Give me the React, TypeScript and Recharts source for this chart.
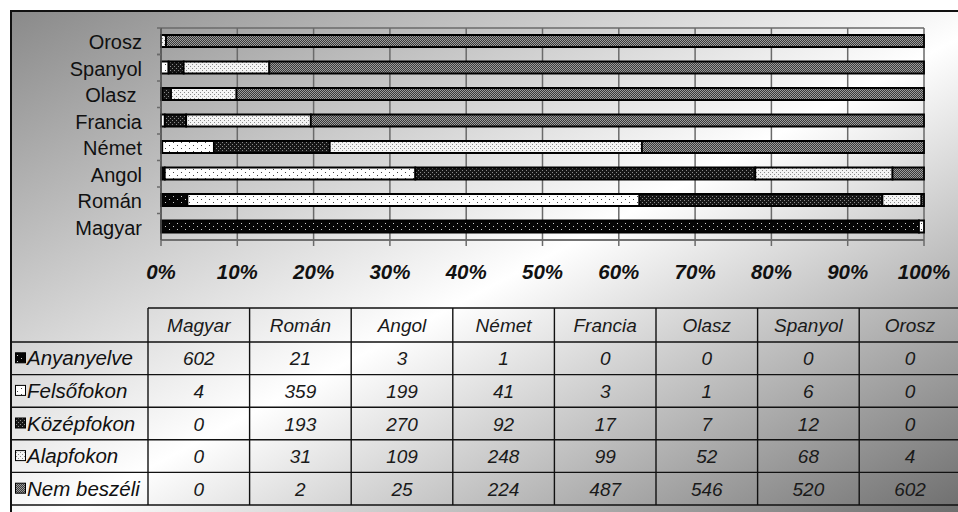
import React from 'react';
import { BarChart, Bar, XAxis, YAxis, CartesianGrid } from 'recharts';

// ---------- data ----------
const languages = ['Magyar', 'Román', 'Angol', 'Német', 'Francia', 'Olasz', 'Spanyol', 'Orosz'];
const axisLabels = ['Magyar', 'Román', 'Angol', 'Német', 'Francia', 'Olasz ', 'Spanyol', 'Orosz'];
const seriesNames = ['Anyanyelve', 'Felsőfokon', 'Középfokon', 'Alapfokon', 'Nem beszéli'];
const anyanyelve = [602, 21, 3, 1, 0, 0, 0, 0];
const felsofokon = [4, 359, 199, 41, 3, 1, 6, 0];
const kozepfokon = [0, 193, 270, 92, 17, 7, 12, 0];
const alapfokon = [0, 31, 109, 248, 99, 52, 68, 4];
const nemBeszeli = [0, 2, 25, 224, 487, 546, 520, 602];
const xTicks = [0, 0.1, 0.2, 0.3, 0.4, 0.5, 0.6, 0.7, 0.8, 0.9, 1];

const seriesValues = [anyanyelve, felsofokon, kozepfokon, alapfokon, nemBeszeli];
const seriesKeys = ['s0', 's1', 's2', 's3', 's4'];
const patternKeys = ['any', 'fel', 'koz', 'ala', 'nem'];

const data = languages.map((lang, i) => {
  const row: any = { name: lang, label: axisLabels[i] };
  seriesKeys.forEach((k, j) => {
    row[k] = seriesValues[j][i];
  });
  return row;
});

// ---------- layout ----------
const FONT = '"Liberation Sans", Arial, Helvetica, sans-serif';
const CHART_W = 958;
const CHART_H = 300;
const MARGIN = { top: 28, right: 34, left: 0, bottom: 30 };
const Y_AXIS_W = 161;
const X_AXIS_H = 30;
const PLOT_H = CHART_H - MARGIN.top - MARGIN.bottom - X_AXIS_H;
const BAND = PLOT_H / languages.length;
const GRID = '#6a6a6a';

function Patterns({ prefix }: { prefix: string }) {
  return (
    <defs>
      <pattern id={`${prefix}-any`} width="8" height="6" patternUnits="userSpaceOnUse">
        <rect width="8" height="6" fill="#050505" />
        <rect x="1" y="1" width="1" height="1" fill="#d0d0d0" />
        <rect x="5" y="4" width="1" height="1" fill="#d0d0d0" />
      </pattern>
      <pattern id={`${prefix}-fel`} width="8" height="6" patternUnits="userSpaceOnUse">
        <rect width="8" height="6" fill="#ffffff" />
        <rect x="1" y="1" width="1" height="1" fill="#444" />
        <rect x="5" y="4" width="1" height="1" fill="#444" />
      </pattern>
      <pattern id={`${prefix}-koz`} width="4" height="4" patternUnits="userSpaceOnUse">
        <rect width="4" height="4" fill="#161616" />
        <rect x="0" y="0" width="1" height="1" fill="#8a8a8a" />
        <rect x="2" y="2" width="1" height="1" fill="#8a8a8a" />
      </pattern>
      <pattern id={`${prefix}-ala`} width="4" height="4" patternUnits="userSpaceOnUse">
        <rect width="4" height="4" fill="#f4f4f4" />
        <rect x="0" y="0" width="1" height="1" fill="#8a8a8a" />
        <rect x="2" y="2" width="1" height="1" fill="#8a8a8a" />
      </pattern>
      <pattern id={`${prefix}-nem`} width="2" height="2" patternUnits="userSpaceOnUse">
        <rect width="2" height="2" fill="#3a3a3a" />
        <rect x="0" y="0" width="1" height="1" fill="#9c9c9c" />
        <rect x="1" y="1" width="1" height="1" fill="#9c9c9c" />
      </pattern>
    </defs>
  );
}

const YTick = (props: any) => {
  const { x, y, payload, index } = props;
  const last = index === languages.length - 1;
  const label = axisLabels[languages.indexOf(payload.value)] ?? payload.value;
  return (
    <g>
      <text
        x={x}
        y={y + 8}
        textAnchor="end"
        fontFamily={FONT}
        fontSize={20}
        fill="#111"
        style={{ whiteSpace: 'pre' }}
      >
        {label}
      </text>
      <line x1={x + 15} x2={x + 19} y1={y - BAND / 2} y2={y - BAND / 2} stroke={GRID} strokeWidth={1.5} />
      {last && (
        <line x1={x + 15} x2={x + 19} y1={y + BAND / 2} y2={y + BAND / 2} stroke={GRID} strokeWidth={1.5} />
      )}
    </g>
  );
};

const XTick = (props: any) => {
  const { x, y, payload } = props;
  return (
    <text
      x={x}
      y={y + 31}
      textAnchor="middle"
      fontFamily={FONT}
      fontSize={20.5}
      fontWeight="bold"
      fontStyle="italic"
      fill="#111"
    >
      {`${Math.round(payload.value * 100)}%`}
    </text>
  );
};

// ---------- table ----------
const T_LEFT = 10;
const T_LABEL_R = 148;
const T_COL_W = 101.6;
const T_TOP = 308;
const T_HEAD_H = 34;
const T_ROW_H = 32.6;

function DataTable() {
  const right = T_LABEL_R + T_COL_W * languages.length;
  const bottom = T_TOP + T_HEAD_H + T_ROW_H * seriesNames.length;
  const lines: any[] = [];
  lines.push(<line key="top" x1={T_LABEL_R} x2={right} y1={T_TOP} y2={T_TOP} stroke="#111" strokeWidth={1.4} />);
  for (let k = 0; k <= seriesNames.length; k++) {
    const yy = T_TOP + T_HEAD_H + k * T_ROW_H;
    lines.push(<line key={`h${k}`} x1={T_LEFT} x2={right} y1={yy} y2={yy} stroke="#111" strokeWidth={1.4} />);
  }
  for (let c = 0; c <= languages.length; c++) {
    const xx = T_LABEL_R + c * T_COL_W;
    lines.push(<line key={`v${c}`} x1={xx} x2={xx} y1={T_TOP} y2={bottom} stroke="#111" strokeWidth={1.4} />);
  }
  return (
    <svg width={958} height={512} style={{ position: 'absolute', left: 0, top: 0 }}>
      <Patterns prefix="t" />
      {lines}
      {languages.map((lang, c) => (
        <text
          key={`hd${c}`}
          x={T_LABEL_R + (c + 0.5) * T_COL_W}
          y={T_TOP + T_HEAD_H / 2 + 7}
          textAnchor="middle"
          fontFamily={FONT}
          fontSize={19}
          fontStyle="italic"
          fill="#1a1a1a"
        >
          {lang}
        </text>
      ))}
      {seriesNames.map((name, r) => {
        const cy = T_TOP + T_HEAD_H + (r + 0.5) * T_ROW_H;
        return (
          <g key={`r${r}`}>
            <rect
              x={15.5}
              y={cy - 5.5}
              width={10}
              height={10}
              fill={`url(#t-${patternKeys[r]})`}
              stroke="#000"
              strokeWidth={1}
            />
            <text x={27} y={cy + 7} fontFamily={FONT} fontSize={20.5} fontStyle="italic" fill="#111">
              {name}
            </text>
            {seriesValues[r].map((v, c) => (
              <text
                key={`c${c}`}
                x={T_LABEL_R + (c + 0.5) * T_COL_W}
                y={cy + 7}
                textAnchor="middle"
                fontFamily={FONT}
                fontSize={19}
                fontStyle="italic"
                fill="#1a1a1a"
              >
                {v}
              </text>
            ))}
          </g>
        );
      })}
    </svg>
  );
}

export default function App() {
  return (
    <div style={{ position: 'absolute', left: 0, top: 0, width: 958, height: 512, background: '#fff', overflow: 'hidden' }}>
      <div
        style={{
          position: 'absolute',
          left: 10,
          top: 10,
          width: 960,
          height: 510,
          boxSizing: 'border-box',
          borderLeft: '2px solid #111',
          borderTop: '2px solid #111',
          background: 'linear-gradient(to bottom right, #8a8a8a 0%, #ffffff 52%, #6a6a6a 100%)',
        }}
      />
      <div style={{ position: 'absolute', left: 0, top: 0 }}>
        <BarChart
          width={CHART_W}
          height={CHART_H}
          data={data}
          layout="vertical"
          stackOffset="expand"
          margin={MARGIN}
          barSize={12}
        >
          <Patterns prefix="c" />
          <CartesianGrid
            stroke={GRID}
            strokeWidth={1.5}
            horizontalPoints={[MARGIN.top, MARGIN.top + PLOT_H]}
            fill="none"
          />
          <XAxis
            type="number"
            domain={[0, 1]}
            ticks={xTicks}
            height={X_AXIS_H}
            tick={<XTick />}
            tickLine={{ stroke: GRID, strokeWidth: 1.5 }}
            axisLine={{ stroke: GRID, strokeWidth: 1.5 }}
            tickSize={6}
            tickMargin={2}
            interval={0}
          />
          <YAxis
            type="category"
            dataKey="name"
            reversed
            width={Y_AXIS_W}
            tick={<YTick />}
            tickLine={false}
            axisLine={{ stroke: '#555', strokeWidth: 1.5 }}
            tickSize={0}
            tickMargin={19}
            interval={0}
          />
          {seriesKeys.map((k, j) => (
            <Bar
              key={k}
              dataKey={k}
              stackId="s"
              fill={`url(#c-${patternKeys[j]})`}
              stroke="#000"
              strokeWidth={1.8}
              isAnimationActive={false}
            />
          ))}
        </BarChart>
      </div>
      <DataTable />
    </div>
  );
}
